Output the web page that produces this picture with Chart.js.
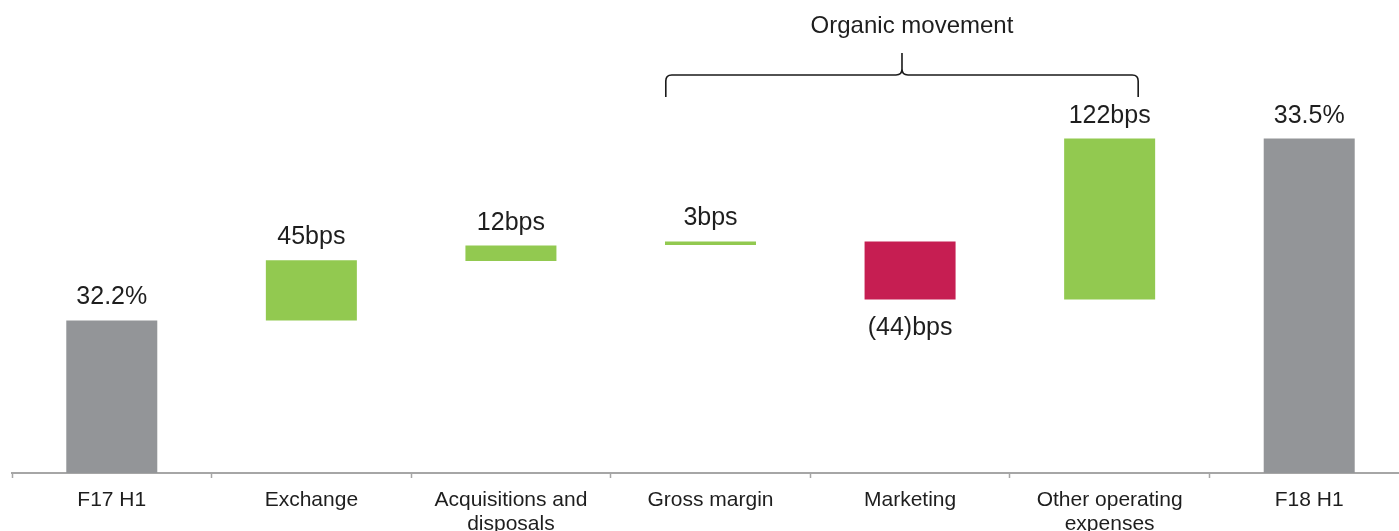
<!DOCTYPE html>
<html>
<head>
<meta charset="utf-8">
<script src="https://cdn.jsdelivr.net/npm/chart.js@4/dist/chart.umd.min.js"></script>
<style>
  html, body { margin: 0; padding: 0; background: #ffffff; overflow: hidden; }
  #wrap { position: relative; width: 1410px; height: 531px; }
</style>
</head>
<body>
<div id="wrap"><canvas id="c"></canvas></div>
<script>
// ---- data ----
const categories = ['F17 H1', 'Exchange', ['Acquisitions and', 'disposals'], 'Gross margin', 'Marketing', ['Other operating', 'expenses'], 'F18 H1'];
const startMargin = 32.2;          // F17 H1 (%)
const endMargin = 33.5;            // F18 H1 (%)
const stepBps = [45, 12, 3, -44, 122];              // labelled movements (bps)
const stepLow = [32.20, 32.625, 32.740, 32.35, 32.35];   // bar bottoms (%)
const stepHigh = [32.63, 32.735, 32.765, 32.765, 33.50]; // bar tops (%)
const yMin = 31.11;
const yMax = 34.49;
const groupLabel = 'Organic movement';
const groupFrom = 3, groupTo = 5;

const colTotal = '#939598';
const colUp = '#92C950';
const colDown = '#C61E52';

const barData = [[yMin, startMargin]]
  .concat(stepLow.map((lo, i) => [lo, stepHigh[i]]))
  .concat([[yMin, endMargin]]);
const barColors = [colTotal].concat(stepBps.map(v => v >= 0 ? colUp : colDown)).concat([colTotal]);
const valueLabels = [startMargin.toFixed(1) + '%']
  .concat(stepBps.map(v => v >= 0 ? v + 'bps' : '(' + Math.abs(v) + ')bps'))
  .concat([endMargin.toFixed(1) + '%']);
const labelBelow = [false].concat(stepBps.map(v => v < 0)).concat([false]);

const FONT = '"Liberation Sans", Arial, sans-serif';

const labelPlugin = {
  id: 'valueLabels',
  afterDatasetsDraw(chart) {
    const ctx = chart.ctx;
    const meta = chart.getDatasetMeta(0);
    ctx.save();
    ctx.font = '25px ' + FONT;
    ctx.fillStyle = '#1e1e1e';
    ctx.textAlign = 'center';
    ctx.textBaseline = 'alphabetic';
    meta.data.forEach((bar, i) => {
      const top = Math.min(bar.y, bar.base);
      const bottom = Math.max(bar.y, bar.base);
      if (labelBelow[i]) {
        ctx.fillText(valueLabels[i], bar.x, bottom + 36);
      } else {
        ctx.fillText(valueLabels[i], bar.x, top - 16);
      }
    });
    ctx.restore();
  }
};

const bracePlugin = {
  id: 'brace',
  afterDraw(chart) {
    const ctx = chart.ctx;
    const xs = chart.scales.x;
    const cw = xs.getPixelForValue(1) - xs.getPixelForValue(0);
    const x1 = xs.getPixelForValue(groupFrom) - 0.224 * cw;
    const x2 = xs.getPixelForValue(groupTo) + 0.143 * cw;
    const xm = (x1 + x2) / 2;
    const yLine = 75, yEnd = 97, yPeak = 53, r = 6;
    ctx.save();
    ctx.strokeStyle = '#1a1a1a';
    ctx.lineWidth = 1.6;
    ctx.beginPath();
    ctx.moveTo(x1, yEnd);
    ctx.lineTo(x1, yLine + r);
    ctx.quadraticCurveTo(x1, yLine, x1 + r, yLine);
    ctx.lineTo(xm - r, yLine);
    ctx.quadraticCurveTo(xm, yLine, xm, yLine - r);
    ctx.lineTo(xm, yPeak);
    ctx.moveTo(xm, yLine - r);
    ctx.quadraticCurveTo(xm, yLine, xm + r, yLine);
    ctx.lineTo(x2 - r, yLine);
    ctx.quadraticCurveTo(x2, yLine, x2, yLine + r);
    ctx.lineTo(x2, yEnd);
    ctx.stroke();
    ctx.font = '24px ' + FONT;
    ctx.fillStyle = '#1e1e1e';
    ctx.textAlign = 'center';
    ctx.textBaseline = 'alphabetic';
    ctx.fillText(groupLabel, xm + 10, 33);
    ctx.restore();
  }
};

new Chart(document.getElementById('c'), {
  type: 'bar',
  data: {
    labels: categories,
    datasets: [{
      data: barData,
      backgroundColor: barColors,
      borderWidth: 0,
      categoryPercentage: 1.0,
      barPercentage: 0.456
    }]
  },
  options: {
    responsive: true,
    maintainAspectRatio: false,
    animation: false,
    layout: { padding: { left: 12, right: 1, top: 0, bottom: 0 } },
    plugins: {
      legend: { display: false },
      tooltip: { enabled: false }
    },
    scales: {
      x: {
        afterFit(axis) { axis.height = 58; },
        grid: {
          display: true,
          drawOnChartArea: false,
          drawTicks: true,
          tickLength: 5,
          tickWidth: 1.5,
          color: '#a6a6a6',
          offset: true
        },
        border: { display: true, color: '#a6a6a6', width: 2 },
        ticks: {
          color: '#1e1e1e',
          font: { family: FONT, size: 21, lineHeight: 1.15 },
          padding: 10,
          maxRotation: 0,
          autoSkip: false
        }
      },
      y: {
        display: false,
        min: yMin,
        max: yMax
      }
    }
  },
  plugins: [labelPlugin, bracePlugin]
});
</script>
</body>
</html>
